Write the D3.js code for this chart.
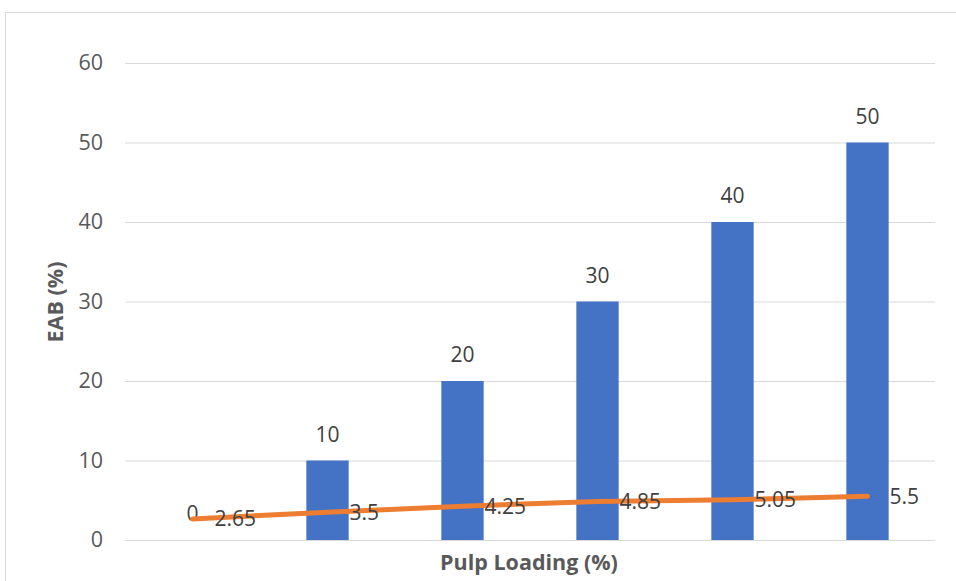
<!DOCTYPE html>
<html><head><meta charset="utf-8">
<script src="https://cdn.jsdelivr.net/npm/d3@7"></script>
<style>body{margin:0;background:#fff}svg{display:block}text{font-family:"Open Sans",sans-serif}</style>
</head><body><svg id="c" width="956" height="581"></svg>
<script>
const categories = ["0","10","20","30","40","50"];
const pulpLoading = [0,10,20,30,40,50];
const eab = [2.65,3.5,4.25,4.85,5.05,5.5];
const yTicks = [0,10,20,30,40,50,60];

const svg = d3.select("#c");
const W = 956, H = 581;
const m = {left:125, right:W-935, top:63, bottom:H-540};

svg.append("rect").attr("x",5.5).attr("y",12.5).attr("width",1200).attr("height",1200)
  .attr("fill","#fff").attr("stroke","#d9d9d9").attr("stroke-width",1);

const x = d3.scaleBand().domain(categories).range([m.left, W-m.right]).paddingInner(0).paddingOuter(0);
const y = d3.scaleLinear().domain([0,60]).range([H-m.bottom, m.top]);

const yAxis = d3.axisLeft(y).tickValues(yTicks).tickSize(-(W-m.right-m.left)).tickPadding(22);
const gy = svg.append("g").attr("transform",`translate(${m.left},0)`).call(yAxis);
gy.select(".domain").remove();
gy.selectAll(".tick line").attr("stroke","#d9d9d9").attr("stroke-width",1);
gy.selectAll(".tick text").attr("fill","#595959").style("font-size","21.5px").style("font-family","'Open Sans',sans-serif");

const bw = x.bandwidth()/3.19;
const bars = svg.append("g");
bars.selectAll("rect").data(pulpLoading).join("rect")
  .attr("x",(d,i)=>x(categories[i])+x.bandwidth()/2-bw/2)
  .attr("y",d=>y(d)).attr("width",bw).attr("height",d=>y(0)-y(d))
  .attr("fill","#4472c4");
bars.selectAll("text").data(pulpLoading).join("text")
  .attr("x",(d,i)=>x(categories[i])+x.bandwidth()/2)
  .attr("y",d=>y(d)-19).attr("text-anchor","middle")
  .attr("fill","#404040").style("font-size","21px").text(d=>d);

const cx = (d,i)=>x(categories[i])+x.bandwidth()/2;
svg.append("path").datum(eab)
  .attr("d", d3.line().x(cx).y(d=>y(d)))
  .attr("fill","none").attr("stroke","#ed7d31").attr("stroke-width",5).attr("stroke-linecap","round");
svg.append("g").selectAll("text").data(eab).join("text")
  .attr("x",(d,i)=>cx(d,i)+22).attr("y",d=>y(d)).attr("dy","0.36em")
  .attr("fill","#404040").style("font-size","21px").text(d=>d);

svg.append("text").attr("x",529).attr("y",570).attr("text-anchor","middle")
  .attr("fill","#595959").style("font-size","21.5px").style("font-weight","bold").text("Pulp Loading (%)");
svg.append("text").attr("transform","translate(63,302) rotate(-90)").attr("text-anchor","middle")
  .attr("fill","#595959").style("font-size","21.5px").style("font-weight","bold").text("EAB (%)");
</script></body></html>
